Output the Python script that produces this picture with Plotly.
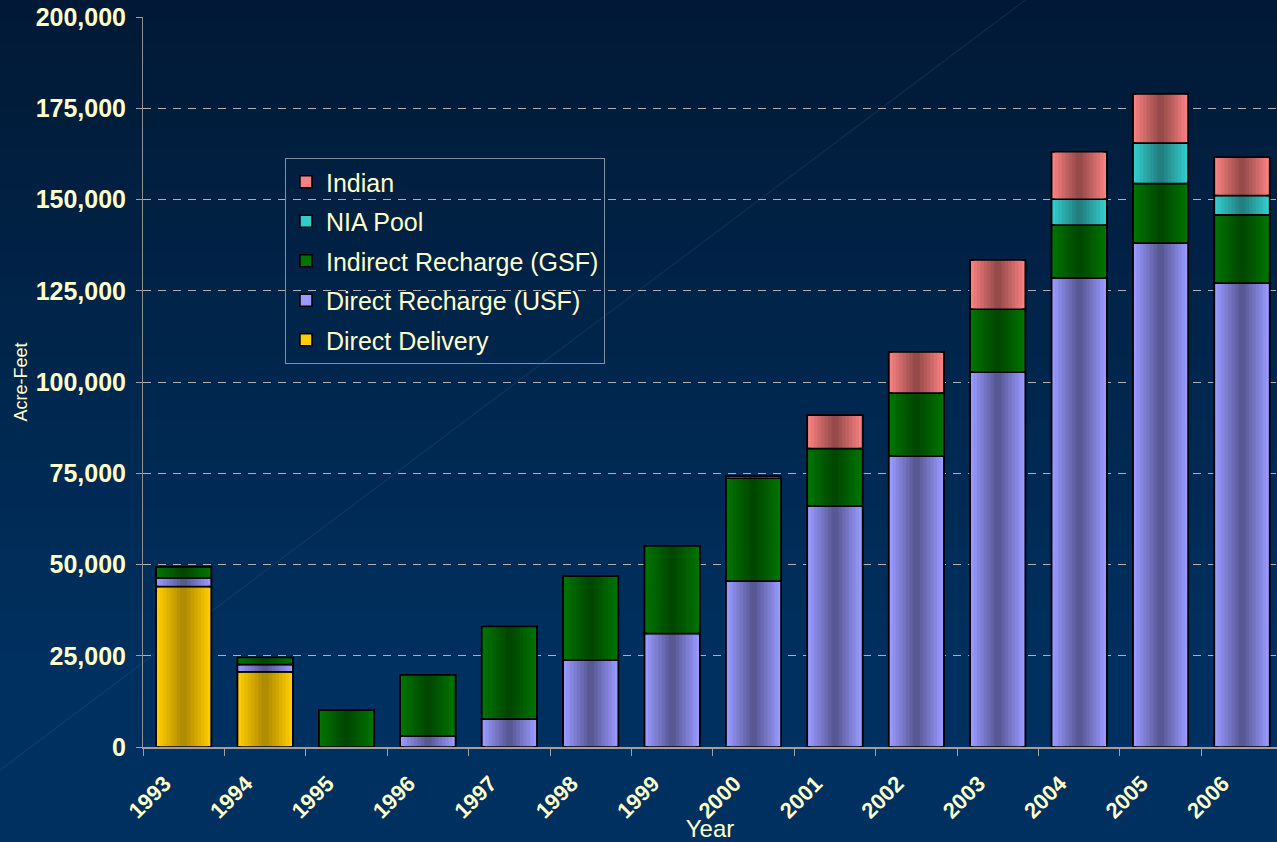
import plotly.graph_objects as go

years = [str(y) for y in range(1993, 2007)]
direct_delivery = [44000, 20600, 0, 0, 0, 0, 0, 0, 0, 0, 0, 0, 0, 0]
direct_usf = [2400, 2000, 0, 3000, 7700, 23800, 31100, 45500, 66000, 79700, 102700, 128500, 138100, 127100]
indirect_gsf = [2900, 1900, 10100, 16700, 25300, 23000, 24000, 28100, 15800, 17300, 17200, 14500, 16300, 18700]
nia_pool = [0, 0, 0, 0, 0, 0, 0, 0, 0, 0, 0, 7100, 11100, 5300]
indian = [0, 0, 0, 0, 0, 0, 0, 600, 9100, 11200, 13500, 13000, 13400, 10500]

series = [
    ("Direct Delivery", direct_delivery, "#ffcc00", "#b08c00"),
    ("Direct Recharge (USF)", direct_usf, "#9999ff", "#585894"),
    ("Indirect Recharge (GSF)", indirect_gsf, "#007300", "#004800"),
    ("NIA Pool", nia_pool, "#33cccc", "#237f80"),
    ("Indian", indian, "#f78080", "#964a4a"),
]

TXT = "#ffffcc"
FONT = "Liberation Sans, Arial, sans-serif"
BAR_W = 0.68
N = 8


def hex2rgb(h):
    h = h.lstrip("#")
    return tuple(int(h[i:i + 2], 16) for i in (0, 2, 4))


def mix(a, b, t):
    ra, rb = hex2rgb(a), hex2rgb(b)
    return "rgb(%d,%d,%d)" % tuple(round(ra[i] + (rb[i] - ra[i]) * t) for i in range(3))


fig = go.Figure()
base = [0] * len(years)
for idx, (name, vals, edge, center) in enumerate(series):
    rank = len(series) - idx
    ys = [v if v > 0 else None for v in vals]
    bs = list(base)
    fig.add_trace(go.Bar(x=years, y=ys, base=bs, name=name, legendgroup=name, legendrank=rank,
                         width=BAR_W, marker=dict(color=edge, line=dict(color="black", width=1.5)),
                         showlegend=True))
    for k in range(1, N):
        f = 1 - k / N
        fig.add_trace(go.Bar(x=years, y=ys, base=bs, legendgroup=name, legendrank=rank, showlegend=False,
                             width=BAR_W * f, marker=dict(color=mix(edge, center, k / (N - 1)), line=dict(width=0)),
                             hoverinfo="skip"))
    fig.add_trace(go.Bar(x=years, y=ys, base=bs, legendgroup=name, legendrank=rank, showlegend=False,
                         width=BAR_W, marker=dict(color="rgba(0,0,0,0)", line=dict(color="black", width=1.5)),
                         hoverinfo="skip"))
    base = [b + v for b, v in zip(base, vals)]

# background gradient bands
shapes = []
top_c, bot_c = "#011935", "#00305f"
nb = 40
y_top, y_bot = 747 / 730, (747 - 842) / 730
for i in range(nb):
    y1 = y_top - (y_top - y_bot) * i / nb
    y0 = y_top - (y_top - y_bot) * (i + 1) / nb
    t = min(1.0, (i + 0.5) / (nb * 0.78))
    shapes.append(dict(type="rect", xref="paper", yref="paper", x0=-0.2, x1=1.1, y0=y0 - 0.002, y1=y1,
                       fillcolor=mix(top_c, bot_c, t), line=dict(width=0), layer="below"))
shapes.append(dict(type="line", xref="paper", yref="paper", x0=-0.126, y0=-0.0315, x1=0.778, y1=1.023,
                   line=dict(color="rgba(90,120,170,0.22)", width=1), layer="below"))

fig.update_layout(
    width=1277, height=842,
    margin=dict(l=143, r=0, t=17, b=95),
    barmode="overlay",
    paper_bgcolor="#012450",
    plot_bgcolor="rgba(0,0,0,0)",
    shapes=shapes,
    font=dict(family=FONT, color=TXT),
    showlegend=True,
    legend=dict(x=0.1252, y=0.8068, xanchor="left", yanchor="top",
                bgcolor="rgba(0,0,0,0)", bordercolor="#8090a0", borderwidth=1,
                font=dict(size=25, color=TXT, family=FONT), itemwidth=30,
                traceorder="grouped", tracegroupgap=4),
    xaxis=dict(type="category", range=[-0.5, 13.43], tickangle=-45,
               tickfont=dict(size=22, color=TXT, family="Liberation Sans, Arial", weight="bold"),
               showline=True, linecolor="#a0a0a0", linewidth=2, ticks="outside", ticklen=7,
               tickcolor="#a0a0a0", tickson="boundaries", showgrid=False,
               ticklabelshift=-19, ticklabelstandoff=13,
               title=dict(text="Year", font=dict(size=24, color=TXT), standoff=2)),
    yaxis=dict(range=[0, 200000], dtick=25000, tickformat=",",
               tickfont=dict(size=25, color=TXT, family="Liberation Sans, Arial", weight="bold"),
               showline=True, linecolor="#909090", linewidth=1, ticks="outside", ticklen=6,
               tickcolor="#a0a0a0", showgrid=True, gridcolor="#b0b0b0", gridwidth=1, griddash="8px,7px",
               zeroline=False, ticklabelstandoff=5,
               title=dict(text="Acre-Feet", font=dict(size=18, color=TXT), standoff=3)),
)

fig.write_html("out.html", config={"displayModeBar": False},
               post_script="document.body.style.margin='0';document.body.style.overflow='hidden';")
